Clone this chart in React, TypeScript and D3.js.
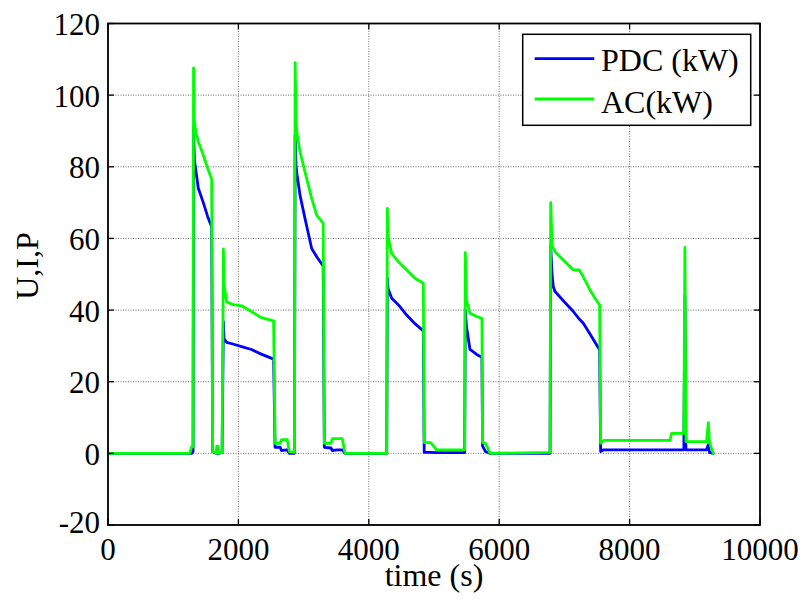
import React from "react";
import * as d3 from "d3";

const timeS = [0, 1250, 1283, 1305, 1312, 1325, 1350, 1385, 1462, 1530, 1590, 1605, 1660, 1670, 1690, 1700, 1750, 1770, 1780, 1820, 1900, 2050, 2200, 2350, 2540, 2562, 2640, 2660, 2750, 2780, 2860, 2870, 2885, 2900, 2945, 3021, 3124, 3201, 3300, 3318, 3420, 3440, 3520, 3594, 3635, 4275, 4284, 4295, 4351, 4452, 4581, 4708, 4836, 4850, 4950, 5040, 5470, 5480, 5498, 5552, 5655, 5735, 5745, 5790, 5860, 6780, 6790, 6810, 6830, 6856, 6983, 7137, 7228, 7290, 7393, 7469, 7540, 7556, 7600, 8620, 8645, 8832, 8848, 8864, 9180, 9207, 9225, 9283];
const pdcKW = [0, 0, 0, 0.5, 90.7, 82, 78.6, 74, 70, 66, 63.3, 0.5, 0, 0, 0, 0, 0.3, 36.8, 32, 31, 30.6, 29.8, 29, 27.7, 26.3, 1.7, 1.7, 0.8, 1.0, 0, 0, 88.8, 80, 77.7, 72.1, 65.6, 57.2, 54.9, 52.3, 1.7, 1.5, 0.8, 1.0, 1.0, 0, 0, 48.9, 46, 43.3, 41.5, 38.6, 36.2, 34.2, 0.3, 0.3, 0.2, 0.2, 40, 35.4, 29, 27.6, 26.8, 2.0, 0.5, 0, 0, 58, 50, 46.5, 45.2, 42.6, 39.6, 37.5, 36.3, 33.3, 31, 28.9, 0.5, 1.0, 1.0, 1.0, 1.0, 44, 1.0, 1.0, 2.4, 0.3, 0];
const acKW = [0, 0, 1.8, 1.8, 107.6, 92.6, 89.5, 87, 83.3, 79.5, 76.6, 0.5, 0, 2, 2, 0, 0.3, 57, 47, 42.3, 41.6, 41.2, 39.6, 37.9, 37, 2.8, 2.8, 3.8, 3.8, 0.5, 0.3, 109.1, 92.6, 89, 84.2, 78.6, 71.2, 66.5, 64.2, 2.8, 2.8, 4.1, 4.1, 4.1, 0, 0, 68.4, 60.5, 55.8, 53.5, 51.2, 48.9, 47.5, 3.0, 3.0, 1.0, 1.0, 56, 42.8, 39.1, 38.2, 37.7, 3.0, 2.8, 0, 0.3, 70, 58.2, 57.2, 56.3, 54, 51.2, 51.2, 49.3, 45.6, 43.3, 41.4, 2.8, 3.6, 3.6, 5.6, 5.6, 57.5, 3.3, 3.3, 8.6, 3, 0];

const xTicks = [0, 2000, 4000, 6000, 8000, 10000];
const yTicks = [-20, 0, 20, 40, 60, 80, 100, 120];
const seriesNames = ["PDC (kW)", "AC(kW)"];
const seriesColors = ["#0000ff", "#00ff00"];

const W = 803, H = 602;
const L = 108, R = 760, T = 23.5, B = 525;
const FONT = "'Liberation Serif', 'Times New Roman', serif";

export default function App() {
  const x = d3.scaleLinear().domain([0, 10000]).range([L, R]);
  const y = d3.scaleLinear().domain([-20, 120]).range([B, T]);
  const line = (vals: number[]) =>
    d3.line<number>().x((_, i) => x(timeS[i])).y((v) => y(v))(vals) || "";
  const series = [pdcKW, acKW];
  const tickLen = 6;
  return (
    <svg width={W} height={H} style={{ position: "absolute", left: 0, top: 0, background: "#fff" }} fontFamily={FONT}>
      <defs>
        <clipPath id="plot"><rect x={L} y={T} width={R - L} height={B - T} /></clipPath>
      </defs>
      <rect x={0} y={0} width={W} height={H} fill="#fff" />
      {xTicks.map((t) => (
        <line key={"gx" + t} x1={x(t)} x2={x(t)} y1={T} y2={B} stroke="#6e6e6e" strokeWidth={1} strokeDasharray="1,1.5" />
      ))}
      {yTicks.map((t) => (
        <line key={"gy" + t} x1={L} x2={R} y1={y(t)} y2={y(t)} stroke="#6e6e6e" strokeWidth={1} strokeDasharray="1,1.5" />
      ))}
      <g clipPath="url(#plot)">
        {series.map((s, i) => (
          <path key={i} d={line(s)} fill="none" stroke={seriesColors[i]} strokeWidth={2.8} strokeLinejoin="round" strokeLinecap="round" />
        ))}
      </g>
      {xTicks.map((t) => (
        <g key={"tx" + t}>
          <line x1={x(t)} x2={x(t)} y1={B} y2={B - tickLen} stroke="#000" strokeWidth={1.3} />
          <line x1={x(t)} x2={x(t)} y1={T} y2={T + tickLen} stroke="#000" strokeWidth={1.3} />
          <text x={x(t)} y={560} fontSize={31} textAnchor="middle" fill="#000">{t}</text>
        </g>
      ))}
      {yTicks.map((t) => (
        <g key={"ty" + t}>
          <line x1={L} x2={L + tickLen} y1={y(t)} y2={y(t)} stroke="#000" strokeWidth={1.3} />
          <line x1={R} x2={R - tickLen} y1={y(t)} y2={y(t)} stroke="#000" strokeWidth={1.3} />
          <text x={100} y={y(t) + (t === -20 ? 8 : 11.7)} fontSize={31} textAnchor="end" fill="#000">{t}</text>
        </g>
      ))}
      <rect x={L} y={T} width={R - L} height={B - T} fill="none" stroke="#000" strokeWidth={1.8} />
      <text x={(L + R) / 2} y={586} fontSize={32} textAnchor="middle" fill="#000">time (s)</text>
      <text transform={`translate(38, 266) rotate(-90)`} fontSize={32} textAnchor="middle" fill="#000">U,I,P</text>
      <rect x={522.7} y={34.3} width={228} height={91} fill="#fff" stroke="#000" strokeWidth={1.5} />
      {seriesNames.map((n, i) => (
        <g key={n}>
          <line x1={534.7} x2={594.3} y1={58.7 + i * 40.3} y2={58.7 + i * 40.3} stroke={seriesColors[i]} strokeWidth={2.8} />
          <text x={601} y={70.7 + i * 42.3} fontSize={32} fill="#000">{n}</text>
        </g>
      ))}
    </svg>
  );
}
